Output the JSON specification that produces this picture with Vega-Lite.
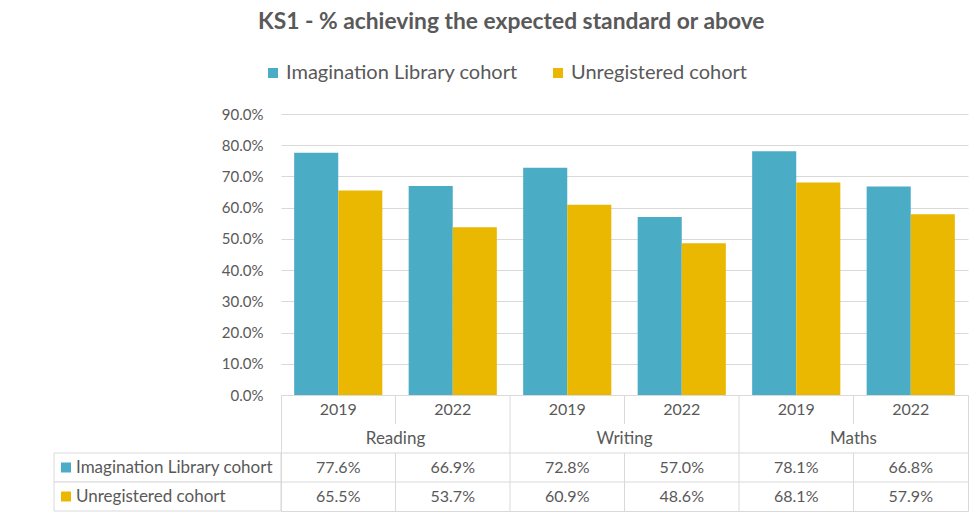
{
  "$schema": "https://vega.github.io/schema/vega-lite/v6.json",
  "padding": {"left": 53, "top": 11, "right": 8, "bottom": 8},
  "background": "white",
  "title": {"text": "KS1 - % achieving the expected standard or above", "fontSize": 22.8, "fontWeight": "bold", "color": "#595959", "anchor": "middle", "offset": 29},
  "config": {"font": "Lato", "view": {"stroke": null}},
  "datasets": {
    "vals": [
      {"subject": "Reading", "year": "2019", "col": "Reading 2019", "cohort": "Imagination Library cohort", "value": 0.776},
      {"subject": "Reading", "year": "2019", "col": "Reading 2019", "cohort": "Unregistered cohort", "value": 0.655},
      {"subject": "Reading", "year": "2022", "col": "Reading 2022", "cohort": "Imagination Library cohort", "value": 0.669},
      {"subject": "Reading", "year": "2022", "col": "Reading 2022", "cohort": "Unregistered cohort", "value": 0.537},
      {"subject": "Writing", "year": "2019", "col": "Writing 2019", "cohort": "Imagination Library cohort", "value": 0.728},
      {"subject": "Writing", "year": "2019", "col": "Writing 2019", "cohort": "Unregistered cohort", "value": 0.609},
      {"subject": "Writing", "year": "2022", "col": "Writing 2022", "cohort": "Imagination Library cohort", "value": 0.570},
      {"subject": "Writing", "year": "2022", "col": "Writing 2022", "cohort": "Unregistered cohort", "value": 0.486},
      {"subject": "Maths", "year": "2019", "col": "Maths 2019", "cohort": "Imagination Library cohort", "value": 0.781},
      {"subject": "Maths", "year": "2019", "col": "Maths 2019", "cohort": "Unregistered cohort", "value": 0.681},
      {"subject": "Maths", "year": "2022", "col": "Maths 2022", "cohort": "Imagination Library cohort", "value": 0.668},
      {"subject": "Maths", "year": "2022", "col": "Maths 2022", "cohort": "Unregistered cohort", "value": 0.579}
    ]
  },
  "columns": 2,
  "spacing": 0,
  "bounds": "flush",
  "resolve": {"scale": {"x": "independent", "y": "independent", "color": "shared"}},
  "concat": [
    {
      "width": 227, "height": 281,
      "data": {"values": [{}]},
      "mark": {"type": "text", "text": ""},
      "encoding": {}
    },
    {
      "width": 687, "height": 281,
      "data": {"name": "vals"},
      "mark": {"type": "bar"},
      "encoding": {
        "x": {"field": "col", "type": "nominal", "sort": null, "scale": {"type": "band", "domain": ["Reading 2019", "Reading 2022", "Writing 2019", "Writing 2022", "Maths 2019", "Maths 2022"], "paddingInner": 0.23, "paddingOuter": 0.115}, "axis": null},
        "xOffset": {"field": "cohort", "type": "nominal", "scale": {"domain": ["Imagination Library cohort", "Unregistered cohort"], "paddingInner": 0, "paddingOuter": 0}},
        "y": {"field": "value", "type": "quantitative", "scale": {"domain": [0, 0.9], "nice": false},
              "axis": {"values": [0, 0.1, 0.2, 0.3, 0.4, 0.5, 0.6, 0.7, 0.8, 0.9], "format": ".1%", "title": null, "domain": false, "ticks": false, "grid": true, "gridColor": "#d9d9d9", "gridWidth": 1, "labelFontSize": 15, "labelColor": "#595959", "labelPadding": 18}},
        "color": {"field": "cohort", "type": "nominal",
                  "scale": {"domain": ["Imagination Library cohort", "Unregistered cohort"], "range": ["#4BACC6", "#EAB800"]},
                  "legend": {"title": null, "orient": "none", "legendX": 209, "legendY": -51, "direction": "horizontal", "symbolType": "square", "symbolSize": 100, "symbolStrokeWidth": 0, "labelFontSize": 20, "labelLimit": 400, "labelColor": "#595959", "columnPadding": 30, "labelOffset": 3}}
      }
    },
    {
      "width": 227, "height": 116,
      "layer": [
        {
          "data": {"values": [{"row": "Imagination Library cohort"}, {"row": "Unregistered cohort"}]},
          "mark": {"type": "rect", "fill": "white", "stroke": "#d9d9d9", "strokeWidth": 1},
          "encoding": {
            "y": {"field": "row", "type": "nominal", "scale": {"type": "band", "domain": ["Year", "Subject", "Imagination Library cohort", "Unregistered cohort"], "paddingInner": 0, "paddingOuter": 0}, "axis": null}
          }
        },
        {
          "data": {"values": [{"row": "Imagination Library cohort"}, {"row": "Unregistered cohort"}]},
          "mark": {"type": "point", "shape": "square", "filled": true, "size": 100, "opacity": 1},
          "encoding": {
            "x": {"datum": "key", "type": "nominal", "scale": {"type": "point", "domain": ["key", "label"], "range": [12, 22], "padding": 0}, "axis": null},
            "y": {"field": "row", "type": "nominal", "axis": null},
            "color": {"field": "row", "type": "nominal"}
          }
        },
        {
          "data": {"values": [{"row": "Imagination Library cohort"}, {"row": "Unregistered cohort"}]},
          "mark": {"type": "text", "align": "left", "baseline": "middle", "fontSize": 17, "color": "#595959"},
          "encoding": {
            "x": {"datum": "label", "type": "nominal"},
            "y": {"field": "row", "type": "nominal", "axis": null},
            "text": {"field": "row"}
          }
        }
      ]
    },
    {
      "width": 687, "height": 116,
      "view": {"stroke": "#d9d9d9"},
      "layer": [
        {
          "data": {"values": [{"row": "Imagination Library cohort"}, {"row": "Unregistered cohort"}]},
          "mark": {"type": "rule", "color": "#d9d9d9"},
          "encoding": {
            "y": {"field": "row", "type": "nominal", "bandPosition": 0, "scale": {"type": "band", "domain": ["Year", "Subject", "Imagination Library cohort", "Unregistered cohort"], "paddingInner": 0, "paddingOuter": 0}, "axis": null}
          }
        },
        {
          "data": {"values": [{"col": "Writing 2019"}, {"col": "Maths 2019"}]},
          "mark": {"type": "rule", "color": "#d9d9d9"},
          "encoding": {
            "x": {"field": "col", "type": "nominal", "bandPosition": 0, "scale": {"type": "band", "domain": ["Reading 2019", "Reading 2022", "Writing 2019", "Writing 2022", "Maths 2019", "Maths 2022"], "paddingInner": 0, "paddingOuter": 0}, "axis": null}
          }
        },
        {
          "data": {"values": [
            {"col": "Reading 2022", "row": "Year"}, {"col": "Writing 2022", "row": "Year"}, {"col": "Maths 2022", "row": "Year"},
            {"col": "Reading 2022", "row": "Imagination Library cohort"}, {"col": "Writing 2022", "row": "Imagination Library cohort"}, {"col": "Maths 2022", "row": "Imagination Library cohort"},
            {"col": "Reading 2022", "row": "Unregistered cohort"}, {"col": "Writing 2022", "row": "Unregistered cohort"}, {"col": "Maths 2022", "row": "Unregistered cohort"}
          ]},
          "mark": {"type": "tick", "orient": "vertical", "size": 29, "thickness": 1, "color": "#d9d9d9", "opacity": 1},
          "encoding": {
            "x": {"field": "col", "type": "nominal", "bandPosition": 0},
            "y": {"field": "row", "type": "nominal", "bandPosition": 0.5}
          }
        },
        {
          "data": {"name": "vals"},
          "transform": [{"filter": "datum.cohort === 'Imagination Library cohort'"}],
          "mark": {"type": "text", "fontSize": 16, "color": "#595959", "baseline": "middle"},
          "encoding": {
            "x": {"field": "col", "type": "nominal", "bandPosition": 0.5},
            "y": {"datum": "Year", "type": "nominal", "bandPosition": 0.5},
            "text": {"field": "year"}
          }
        },
        {
          "data": {"name": "vals"},
          "transform": [{"filter": "datum.cohort === 'Imagination Library cohort' && datum.year === '2022'"}],
          "mark": {"type": "text", "fontSize": 17, "color": "#595959", "baseline": "middle"},
          "encoding": {
            "x": {"field": "col", "type": "nominal", "bandPosition": 0},
            "y": {"datum": "Subject", "type": "nominal", "bandPosition": 0.5},
            "text": {"field": "subject"}
          }
        },
        {
          "data": {"name": "vals"},
          "mark": {"type": "text", "fontSize": 16, "color": "#595959", "baseline": "middle"},
          "encoding": {
            "x": {"field": "col", "type": "nominal", "bandPosition": 0.5},
            "y": {"field": "cohort", "type": "nominal", "bandPosition": 0.5},
            "text": {"field": "value", "type": "quantitative", "format": ".1%"}
          }
        }
      ]
    }
  ]
}
